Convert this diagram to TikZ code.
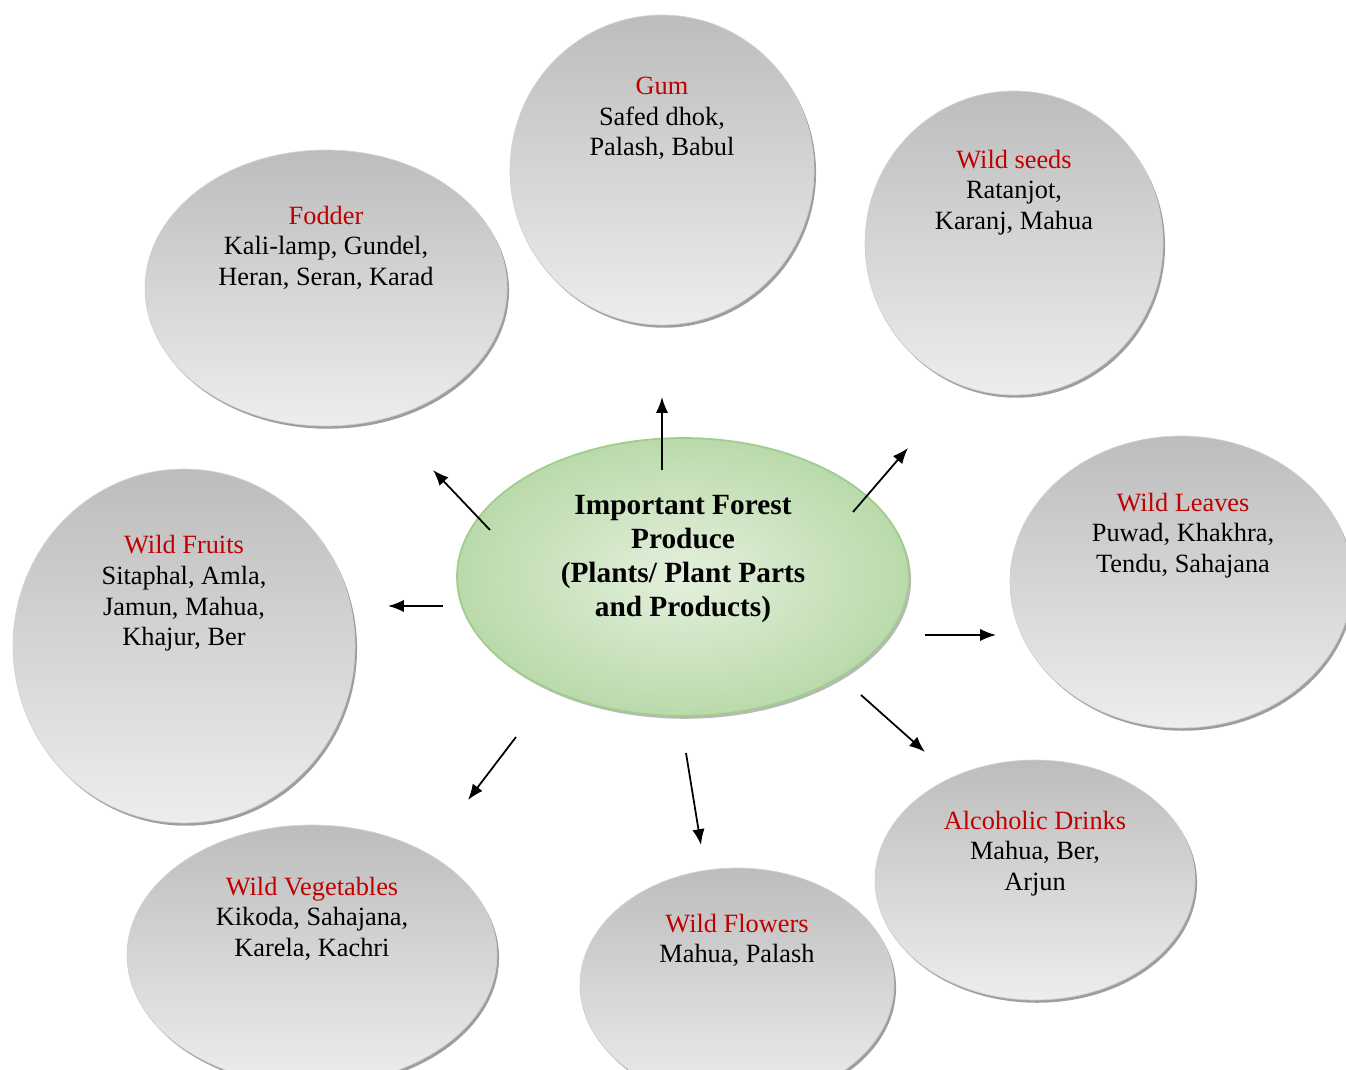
\documentclass[tikz,border=0pt]{standalone}
\usepackage{fontspec}
\setmainfont{Liberation Serif}
\usetikzlibrary{shapes.geometric,shadows,arrows.meta}
\definecolor{titlered}{RGB}{192,0,0}
\definecolor{hubinner}{RGB}{228,240,221}
\definecolor{hubouter}{RGB}{186,218,171}
\definecolor{hubline}{RGB}{160,204,140}
\begin{document}
\begin{tikzpicture}[x=0.02cm,y=-0.02cm,
    bubble/.style 2 args={ellipse, minimum width=#1*0.04cm, minimum height=#2*0.04cm, inner sep=0pt,
        draw=black!18, line width=0.4pt, top color=black!26, bottom color=black!7,
        drop shadow={shadow xshift=1.2pt, shadow yshift=-1.6pt, fill=black!42, opacity=0.9}},
    item/.style={align=center, font=\fontsize{15}{17.4}\selectfont},
    arr/.style={-{Latex[length=9pt,width=7pt]}, line width=1pt}]
    \useasboundingbox (0,0) rectangle (1346,1070);

    % Outer bubbles
    \node[bubble={152}{155}] (gum) at (662,170) {};
    \node[bubble={181}{138}] (fodder) at (326,288) {};
    \node[bubble={149}{152}] (seeds) at (1014,243) {};
    \node[bubble={171}{146}] (leaves) at (1181,582) {};
    \node[bubble={171}{177}] (fruits) at (184,646) {};
    \node[bubble={185}{130}] (veg) at (312,955) {};
    \node[bubble={157}{117}] (flowers) at (737,985) {};
    \node[bubble={160}{120}] (drinks) at (1035,880) {};

    % Bubble texts
    \node[item] (gumtxt) at (662,118.5) {{\color{titlered}Gum}\\Safed dhok,\\Palash, Babul};
    \node[item] (foddertxt) at (326,247.5) {{\color{titlered}Fodder}\\Kali-lamp, Gundel,\\Heran, Seran, Karad};
    \node[item] (seedstxt) at (1014,192.5) {{\color{titlered}Wild seeds}\\Ratanjot,\\Karanj, Mahua};
    \node[item] (leavestxt) at (1183,535.5) {{\color{titlered}Wild Leaves}\\Puwad, Khakhra,\\Tendu, Sahajana};
    \node[item] (fruitstxt) at (184,593.5) {{\color{titlered}Wild Fruits}\\Sitaphal, Amla,\\Jamun, Mahua,\\Khajur, Ber};
    \node[item] (vegtxt) at (312,918.5) {{\color{titlered}Wild Vegetables}\\Kikoda, Sahajana,\\Karela, Kachri};
    \node[item] (flowerstxt) at (737,940.5) {{\color{titlered}Wild Flowers}\\Mahua, Palash};
    \node[item] (drinkstxt) at (1035,853.5) {{\color{titlered}Alcoholic Drinks}\\Mahua, Ber,\\Arjun};

    % Centre
    \node[ellipse, minimum width=9.04cm, minimum height=5.56cm, inner sep=0pt,
        draw=hubline, line width=1pt, inner color=hubinner, outer color=hubouter,
        drop shadow={shadow xshift=1.2pt, shadow yshift=-1.6pt, fill=black!35, opacity=0.8}] (hub) at (683,577) {};
    \node[align=center, font=\bfseries\fontsize{16.7}{19.4}\selectfont] (hubtxt) at (683,559)
        {Important Forest\\Produce\\(Plants/ Plant Parts\\and Products)};

    % Arrows (start / end points)
    \foreach \n/\sx/\sy/\ex/\ey in {up/662/470/662/397, ur/853/512/908/448, rt/925/635/996/635,
                                    dr/861/695/925/752, dn/686/753/701/845, dl/516/737/468/800,
                                    lt/443/606/388/606, ul/490/530/433/470}{
        \coordinate (s-\n) at (\sx,\sy);
        \coordinate (e-\n) at (\ex,\ey);
        \draw[arr] (s-\n) -- (e-\n);
    }
\end{tikzpicture}
\end{document}
